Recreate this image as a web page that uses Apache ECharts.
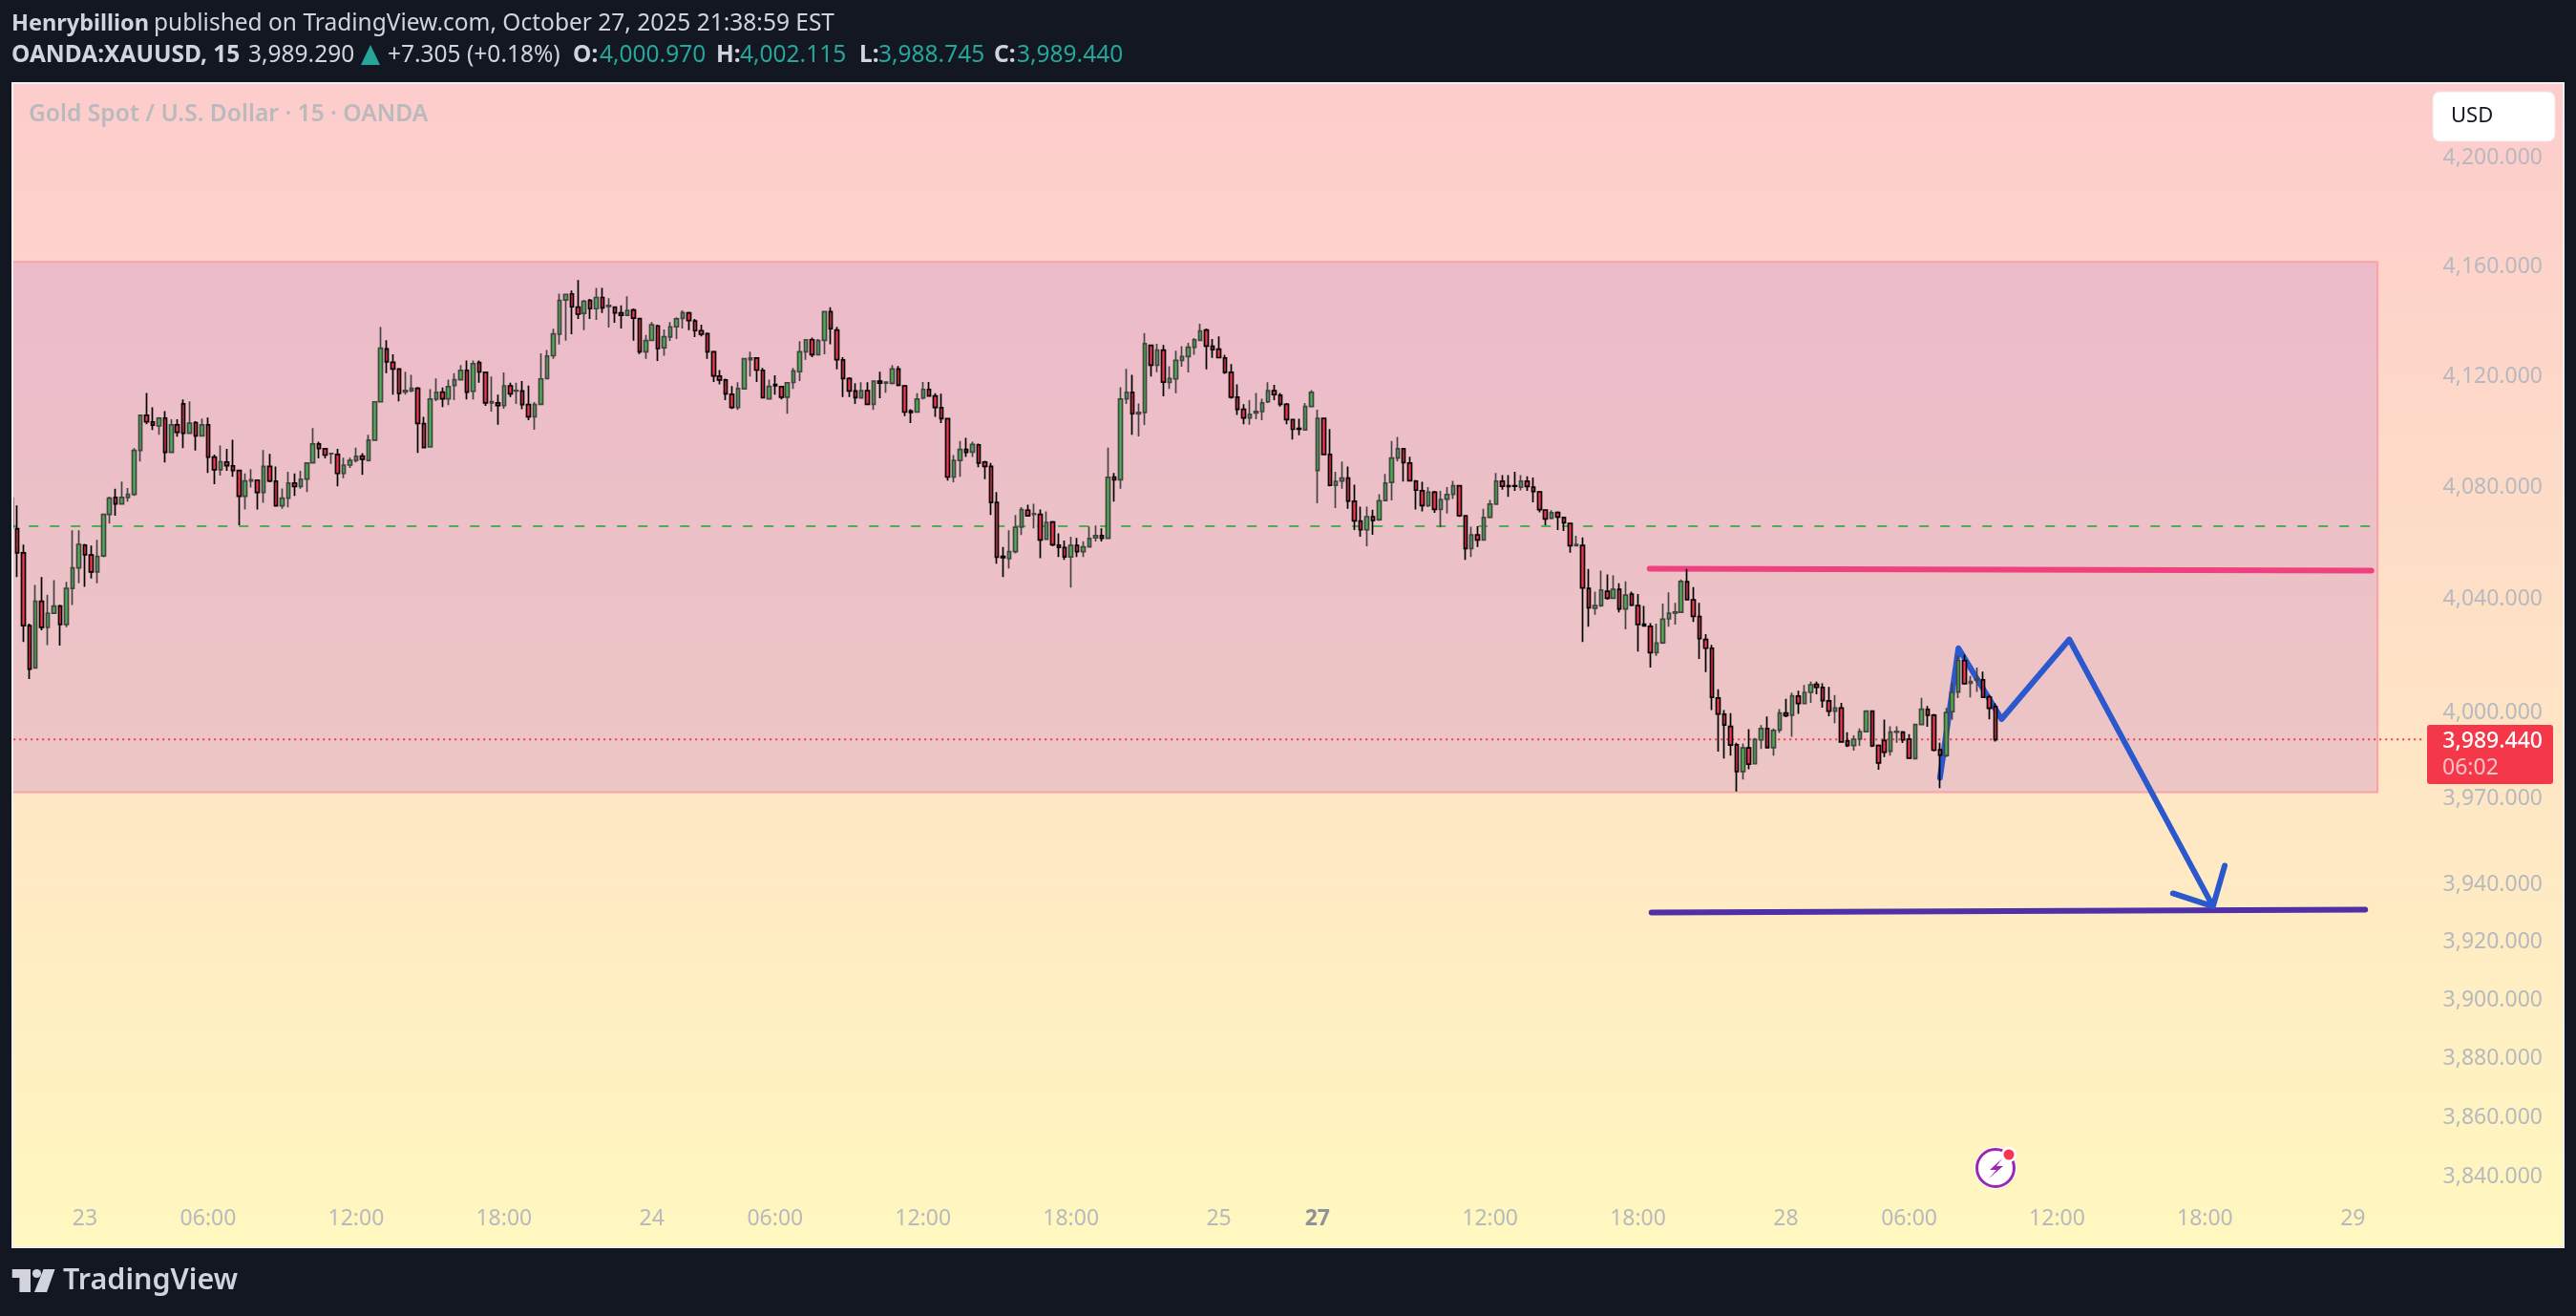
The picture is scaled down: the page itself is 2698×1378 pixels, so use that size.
<!DOCTYPE html>
<html>
<head>
<meta charset="utf-8">
<style>html,body{margin:0;padding:0;background:#131722}#chart{width:2698px;height:1378px}</style>
<script src="https://cdn.jsdelivr.net/npm/echarts@6/dist/echarts.min.js"></script>
</head>
<body>
<div id="chart"></div>
<script>
// open, close, low, high
var candles = [
[4075,4064.4,4064.4,4075],
[4064.1,4055.5,4046.8,4072.4],[4055.5,4029.6,4023.8,4058.4],[4029.6,4014.2,4010.7,4030.3],[4014.6,4038.2,4014.4,4044],[4038.2,4029,4027.9,4046.8],
[4029,4034,4022.7,4040.6],[4034,4036.5,4034,4045.7],[4036.5,4030,4022.5,4037],[4030,4042.8,4029,4045.1],[4042.8,4050.1,4036.9,4063.5],
[4050.1,4058.5,4044.6,4063.5],[4058.2,4054.8,4043.4,4058.7],[4054.7,4048.7,4046.3,4058.1],[4048.7,4054.2,4044.6,4060.1],[4054.4,4069.2,4053.9,4069.2],
[4069.2,4075,4065.9,4075.6],[4075.3,4073,4068.7,4078.4],[4073,4075.3,4073,4081],[4075.3,4076.4,4073.8,4078.7],[4076.4,4092.2,4075.8,4093],
[4092.2,4104.8,4088.2,4105],[4104.8,4102.5,4101.6,4112.9],[4102.4,4101.3,4099.5,4107.7],[4101,4103.8,4097.8,4104.2],[4103.8,4091.5,4087.8,4106.3],
[4091.5,4101.4,4091.5,4103.4],[4101.4,4098.7,4097.1,4103.4],[4109,4098.4,4093,4110.6],[4098.4,4102,4098.4,4109.9],[4102.2,4097.4,4092.1,4102.7],
[4097.4,4101.4,4097.4,4103.7],[4101.4,4089.8,4084.1,4104],[4089.8,4085.2,4080,4090.7],[4085.2,4088.1,4083.1,4093.9],[4088,4086.7,4084.8,4092.7],
[4086.6,4085,4082.7,4096],[4085,4075.7,4065.3,4085.2],[4075.7,4081.2,4071,4083.9],[4081.2,4081.6,4078.8,4085.4],[4081.5,4077.1,4071,4081.6],
[4077.1,4086.4,4073.4,4092.3],[4086.4,4081.2,4080.7,4090.9],[4081.1,4072.3,4072.2,4086.4],[4072.3,4075,4071.2,4078.5],[4075,4080.4,4071.7,4084.5],
[4080.4,4079.2,4075.8,4083.9],[4079.2,4081.8,4078.4,4084.8],[4081.9,4087.6,4077.2,4087.6],[4087.7,4094.5,4087.7,4100.2],[4094.5,4092.9,4089.3,4095.3],
[4092.8,4090.5,4089.3,4093],[4091,4091.1,4087.3,4091.1],[4090.7,4083.9,4079.3,4092.7],[4083.9,4086.9,4082.2,4089.6],[4086.9,4088.6,4085.9,4089.6],
[4088.6,4090,4087.8,4093.2],[4090.1,4089,4083.4,4091.2],[4088.6,4095.9,4088.2,4097.8],[4095.9,4109.7,4095.9,4109.7],[4109.7,4129.1,4109.7,4136.9],
[4128.9,4124.2,4120.1,4132],[4124,4121.6,4112.3,4126.9],[4121.6,4112.8,4109.9,4121.8],[4113.3,4113.8,4112.3,4120.6],[4113.7,4114.6,4113.2,4119.5],
[4114.6,4101.9,4091.3,4115.1],[4101.8,4093.2,4093,4104.3],[4093.5,4110.7,4093.5,4114.3],[4110.7,4113.1,4110,4118.2],[4113.2,4110.8,4107.8,4114.9],
[4110.8,4115.2,4108.5,4117.7],[4115.6,4117.7,4110.3,4120.1],[4117.7,4121.1,4117.5,4123],[4121.1,4113.2,4110.6,4124.7],[4113.5,4123.5,4110.6,4124.7],
[4123.9,4120.5,4116.6,4124.7],[4120.4,4109.3,4108.2,4120.6],[4109.3,4109.8,4106.2,4118.9],[4109.3,4108.4,4101.4,4112.3],[4108.4,4115.5,4107.2,4120.3],
[4115.5,4112.6,4111.4,4116.6],[4113.6,4113.8,4108.9,4116.6],[4113.6,4108.7,4107,4117.2],[4108.7,4104.3,4103.1,4115.6],[4104.3,4108.7,4099.6,4109.6],
[4108.8,4118,4108.8,4127.3],[4118.1,4126.3,4118.1,4128.5],[4126.4,4134.3,4125.3,4136.2],[4134.2,4146.5,4130.5,4149],[4146.7,4148.7,4131.9,4149],
[4148.9,4144.2,4134.2,4150.1],[4144.1,4141.5,4139.8,4154],[4141.8,4146.2,4135.7,4146.7],[4146.5,4143.5,4139.8,4147.1],[4143.5,4147.6,4139.4,4151.1],
[4147.6,4143.8,4141.9,4151.1],[4144.3,4144.7,4136.6,4147.3],[4144.1,4142,4138.4,4144.4],[4142,4141.1,4136.3,4144.7],[4141.1,4142.9,4141,4148],
[4143,4140.1,4131.9,4143.6],[4139.9,4127.8,4127,4140.1],[4127.8,4131.9,4125.3,4133.9],[4132,4137.6,4131.9,4138.6],[4137.2,4129,4124.5,4137.7],
[4129.3,4133.3,4126.4,4135.9],[4133.2,4136.9,4131.8,4138.6],[4136.9,4139.8,4132.5,4140.4],[4140,4142.1,4136.3,4142.9],[4142,4139.2,4135.7,4142.4],
[4139,4135.5,4133.2,4139.8],[4135.5,4134.2,4133.4,4137.7],[4134.4,4127.8,4125.3,4134.8],[4127.8,4119.1,4116.9,4128.2],[4119,4117.6,4116,4121.2],
[4117.6,4112.6,4110.3,4118.1],[4112.4,4107.7,4107.1,4115.4],[4107.7,4114.5,4106.8,4116.8],[4114.4,4125.3,4114.4,4125.5],[4125,4125.6,4118.9,4127.9],
[4125.6,4121.2,4116.9,4125.9],[4121.1,4111.2,4111,4122],[4110.8,4115.3,4110.7,4117.7],[4116,4115.5,4112.3,4119.3],[4115.2,4111.4,4110.6,4115.4],
[4111.4,4116.6,4105.4,4116.8],[4116.7,4120.9,4114.4,4122],[4120.6,4127.8,4117.2,4131.7],[4127.8,4132.2,4124.9,4132.5],[4132.2,4126.8,4125.9,4133],
[4126.8,4131.9,4126.8,4132.5],[4132,4142.4,4126.9,4142.4],[4142.4,4136.2,4130.6,4144],[4135.7,4125,4121.5,4136.9],[4124.9,4118.1,4111.4,4125.9],
[4118.1,4113.6,4111.4,4118.6],[4113.6,4111.2,4108.9,4116.4],[4111.1,4113.7,4110.8,4116.8],[4113.7,4108.8,4108.8,4116.8],[4108.8,4117.2,4106.8,4117.4],
[4117.2,4116.5,4111,4120.6],[4116.5,4116.8,4113,4116.9],[4116.4,4121.6,4116,4123],[4121.6,4115.7,4115.3,4122.7],[4115.5,4106,4104.5,4115.8],
[4106.4,4105.9,4102,4107],[4106,4110.7,4106,4112.8],[4111.1,4114.2,4110.6,4116.9],[4114.2,4111.8,4111.8,4116.9],[4111.8,4107.7,4104.3,4112.8],
[4107.6,4103.6,4102,4112.6],[4103.6,4082.6,4081.3,4103.9],[4082.6,4088.6,4080.7,4090.5],[4088.6,4092.5,4082.7,4095.6],[4092.5,4091.5,4089.8,4096.7],
[4091.6,4094.3,4089.8,4095.3],[4094.2,4087.6,4086.1,4094.6],[4088,4086.4,4081.8,4088.4],[4086.4,4073.5,4069,4087.7],[4073.5,4053.9,4051.6,4077.2],
[4054.2,4053.8,4046.8,4057.6],[4053.4,4055.9,4049.9,4063.5],[4055.9,4064.6,4055.3,4069],[4064.7,4070.9,4061.8,4071.8],[4070.7,4068.7,4068.4,4072.7],
[4069.2,4069.5,4064.2,4073],[4069.2,4060.1,4053.6,4071],[4060.3,4066.3,4060.1,4070.3],[4066.5,4058.4,4057.8,4066.9],[4058.2,4057.4,4054,4062.4],
[4057.4,4054,4053,4059.9],[4054,4058.1,4043.1,4061.2],[4058.1,4055.9,4054,4060.8],[4055.9,4057.6,4054,4059.6],[4057.6,4060.6,4057.4,4064.9],
[4060.8,4061.6,4059.5,4065.2],[4061.6,4060.7,4059.5,4064.2],[4060.7,4082.5,4060.4,4093.2],[4082.6,4081.6,4073.8,4084.1],[4081.6,4110.7,4078.4,4115],
[4110.8,4113.1,4108.9,4121.6],[4113.1,4105.4,4097.8,4119.5],[4105.3,4105.9,4097.2,4109.1],[4105.9,4130.8,4101.3,4134.6],[4130.2,4123,4118.9,4130.5],
[4123,4128.4,4120.4,4130.7],[4128.4,4116.8,4111.7,4130.3],[4116.7,4118.1,4114.4,4122.6],[4118,4124.7,4112.8,4128.2],[4124.7,4126.1,4122.4,4129.9],
[4126.1,4129.5,4120.3,4131.1],[4129.5,4132.2,4126.7,4132.8],[4132,4135.4,4131.7,4138],[4135.7,4129.9,4121.5,4136.3],[4129.8,4128.6,4125.6,4132.5],
[4128.8,4125.7,4125.5,4133.4],[4125.6,4120.4,4119.8,4126.7],[4120.4,4111.4,4110.8,4123.4],[4111.4,4107,4105,4116],[4107,4103.9,4101.6,4108.8],
[4103.9,4105.2,4101.4,4110.3],[4105.7,4106.2,4103.4,4112.9],[4106.2,4109.3,4103.1,4110.8],[4109.7,4113.7,4109.3,4116.8],[4113.7,4112.3,4110.3,4115.8],
[4112.1,4108.8,4108,4112.9],[4108.8,4103.3,4101.6,4109.3],[4103.3,4099.8,4096.1,4103.6],[4100.1,4099.8,4097.6,4103.6],[4099.6,4108,4099.3,4109.3],
[4108,4113.1,4107.7,4113.9],[4085,4103.7,4073.2,4106.9],[4103.7,4090.7,4090.5,4103.9],[4090.7,4079.6,4079.3,4099.9],[4079.6,4081,4071.5,4084.5],
[4081.2,4082.2,4078.4,4088.2],[4082.2,4074,4071.2,4086.4],[4073.9,4066.9,4063.6,4079.9],[4066.8,4063.7,4061.2,4072],[4063.7,4068.4,4057.8,4072],
[4068.4,4067.1,4061.9,4070.9],[4067.3,4074.1,4066.9,4076.4],[4074.2,4080.4,4074.2,4083.7],[4080.7,4089.4,4074.2,4095.6],[4089.4,4092.8,4088.2,4097],
[4092.8,4087.8,4081,4093],[4087.6,4081.3,4081.1,4089.9],[4081.1,4077.9,4071,4081.6],[4077.7,4072.4,4070.3,4080.9],[4072.4,4077.2,4071.8,4079],
[4077.2,4071,4069.8,4077.6],[4071,4074.5,4064.6,4077.6],[4074.7,4076.3,4069.5,4079],[4076.4,4079.5,4074.7,4081.2],[4079.5,4068.8,4068.3,4079.7],
[4068.7,4057,4053,4068.9],[4057,4061.9,4054,4064.8],[4061.9,4060.1,4057.6,4065],[4060.1,4068.1,4059.9,4071.2],[4068.2,4072.9,4067.8,4074.4],
[4072.9,4081.1,4072.6,4084.1],[4081.1,4079.3,4078.1,4083.3],[4079.5,4079.2,4075.5,4083.3],[4079.5,4079.3,4077.6,4084.5],[4079,4081.1,4077.8,4083.3],
[4081.1,4079.2,4077.6,4082.9],[4079,4077.4,4073.5,4082.4],[4077.3,4070.9,4069.9,4077.6],[4070.8,4067.6,4065.3,4071],[4067.8,4069.8,4067.5,4070.7],
[4069.9,4068.3,4063.6,4070.3],[4068.1,4066.2,4063.3,4068.3],[4066,4058,4055.5,4066.2],[4058,4058.5,4057.8,4061.6],[4058.1,4043,4023.8,4061],
[4042.8,4035.9,4029.2,4049.7],[4035.8,4036.7,4033.4,4041.7],[4036.7,4042.2,4036.2,4049.1],[4041.8,4039.3,4038.8,4047.8],[4039.3,4042.5,4039.1,4047.4],
[4042.5,4035.5,4034.3,4044.6],[4035.5,4040.4,4028.3,4045.3],[4040.8,4036.9,4036.5,4041.7],[4036.7,4030,4020.4,4040.8],[4030.1,4029.5,4029.2,4036.6],
[4029.3,4020,4014.8,4030.5],[4020,4023.4,4018.9,4030.3],[4023.5,4031.9,4023.1,4037.4],[4032,4034,4029.2,4041.4],[4034.1,4034.4,4030,4037.7],
[4034.3,4045.3,4034.3,4046],[4045.2,4038.8,4038.5,4049.7],[4038.7,4032.9,4030.9,4043.3],[4032.8,4025,4017.8,4037.7],[4024.7,4021.6,4013.2,4026.6],
[4021.6,4004.3,3999.8,4022.8],[4004,3998.4,3985.2,4007.1],[3998.3,3994.5,3982.8,3999.8],[3994,3987.5,3983.8,3998.7],[3987.6,3978.2,3971.2,3988.3],
[3978.2,3986.5,3975.4,3988],[3986.5,3980.8,3979,3993.1],[3981,3989.4,3980.8,3990],[3989.3,3993.3,3986.1,3994.5],[3993.3,3986.6,3986.4,3997.5],
[3986.6,3992.6,3983.8,3993.3],[3992.8,3998.7,3991.7,4000.1],[3998.7,3997.8,3997.3,4003.7],[3998,4004.8,3990.4,4005.9],[4004.7,4002.1,3998.4,4006.6],
[4002.1,4006,4002,4008.6],[4006,4008.7,4002.3,4009.8],[4008.8,4007.8,4005.3,4009.8],[4007.7,4003.1,4000.6,4009.2],[4003,3999.4,3997.6,4007.9],
[3999.4,4000.5,3995.2,4005.1],[4000.5,3988.6,3988.4,4002.3],[3988.9,3987.3,3986.8,3992],[3987.3,3989.5,3985.5,3990.9],[3989.6,3992.2,3987.2,3993.3],
[3992.2,3999.4,3992.2,3999.7],[3999.4,3987.2,3986.8,3999.7],[3987.3,3981.2,3978.8,3987.7],[3989.1,3985,3983.3,3996.4],[3985.3,3992,3983.8,3994.1],
[3992,3992.3,3988.3,3994.1],[3992,3989.3,3988.2,3992.4],[3989.5,3982.9,3982.8,3991.3],[3982.7,3994.7,3982.7,3994.7],[3994.7,4000.1,3994.7,4004.1],
[4000,3998,3993.9,4001.2],[3998,3985.7,3985.3,3998.4],[3985.8,3984,3972.4,3988.3],[3983.8,3998.9,3983.3,4000.5],[3999.2,4006,3996.3,4009.4],
[4006.1,4017.2,4004,4019.1],[4017.2,4009.1,4009,4019.3],[4009.2,4009.8,4004.2,4011.8],[4010.4,4010.8,4006.2,4014.8],[4010.4,4004.3,4004,4013.3],
[4004.4,4000.4,3996.5,4005.1],[4000.97,3989.44,3988.745,4002.115]
];
var barCount = 415;
var xTickBars = [12,32,56,80,104,124,148,172,196,212,240,264,288,308,332,356,380];
var xTickLabels = ['23','06:00','12:00','18:00','24','06:00','12:00','18:00','25','27','12:00','18:00','28','06:00','12:00','18:00','29'];
var yTicks = [4200,4160,4120,4080,4040,4000,3970,3940,3920,3900,3880,3860,3840];
var yMin = 3815.5, yMax = 4226.2;

// drawings, [bar position, price]
var zoneTop = 4160.6, zoneBottom = 3971, zoneEnd = 384;
var midLevel = 4065, lastPrice = 3989.44, lastPriceEnd = 391.2;
var pinkLine = [[265.9,4049.8],[383,4049.1]];
var purpleLine = [[266.2,3929.2],[382,3930.2]];
var bluePath = [[313,3976],[316,4021.6],[323,3996.6],[334,4024.7],[357.3,3931.3],[350.8,3935.8],[357.3,3931.3],[359.2,3945.4]];

var categories = [];
for (var i = 0; i < barCount; i++) categories.push(String(i));

var myChart = echarts.init(document.getElementById('chart'), null, {renderer: 'canvas'});

function headText(x, y, text, bold, color, size) {
    return {type: 'text', x: x, y: y, z: 50, style: {text: text, fill: color || '#d1d4dc',
        font: (bold ? '700 ' : '400 ') + (size || 24.5) + 'px "Noto Sans"', textVerticalAlign: 'middle'}};
}
var green = '#26a69a';
var option = {
    backgroundColor: '#131722',
    animation: false,
    grid: {
        left: 8.2, top: 88, width: 2678.8, height: 1217, show: true, borderWidth: 0,
        backgroundColor: new echarts.graphic.LinearGradient(0, 0, 0, 1, [
            {offset: 0, color: '#fdcccc'}, {offset: 1, color: '#fff8bf'}
        ])
    },
    xAxis: [{
        type: 'category', data: categories, boundaryGap: true,
        axisLine: {show: false}, axisTick: {show: false}, splitLine: {show: false},
        axisLabel: {
            inside: true, margin: 17, color: '#b7b9bf', fontFamily: 'Noto Sans', fontSize: 23,
            hideOverlap: false,
            interval: function (index) { return xTickBars.indexOf(index) >= 0; },
            formatter: function (value, index) {
                var t = xTickLabels[xTickBars.indexOf(+value)];
                return t === '27' ? '{b|27}' : t;
            },
            rich: {b: {fontWeight: 700, color: '#8f929a', fontFamily: 'Noto Sans', fontSize: 23}}
        }
    }, {
        type: 'value', show: false, min: -0.5, max: barCount - 0.5, splitLine: {show: false}
    }],
    yAxis: {
        type: 'log', logBase: Math.E, position: 'right', min: yMin, max: yMax, scale: true,
        axisLine: {show: false}, axisTick: {show: false}, splitLine: {show: false},
        axisLabel: {
            inside: true, margin: 24,
            customValues: yTicks, showMinLabel: true, showMaxLabel: true,
            formatter: function (v) {
                return '{v|' + Number(v).toLocaleString('en-US', {minimumFractionDigits: 3, maximumFractionDigits: 3}) + '}';
            },
            rich: {v: {color: '#b7b9bf', fontFamily: 'Noto Sans', fontSize: 23, padding: [7, 0, 0, 0]}}
        }
    },
    series: [{
        name: 'zone', type: 'line', xAxisIndex: 1, showSymbol: false, z: 1, silent: true,
        data: [[-0.5, zoneTop], [zoneEnd, zoneTop], [zoneEnd, zoneBottom], [-0.5, zoneBottom]],
        lineStyle: {color: '#f9a2a8', width: 2},
        markArea: {silent: true, itemStyle: {borderWidth: 0,
                color: new echarts.graphic.LinearGradient(0, 0, 0, 1, [
                    {offset: 0, color: 'rgba(162,86,200,0.19)'}, {offset: 1, color: 'rgba(165,66,200,0.2)'}
                ])},
            data: [[{xAxis: -0.5, yAxis: zoneTop}, {xAxis: zoneEnd, yAxis: zoneBottom}]]}
    }, {
        name: 'level', type: 'line', xAxisIndex: 1, showSymbol: false, z: 1, silent: true,
        data: [[-0.5, midLevel], [zoneEnd, midLevel]],
        lineStyle: {color: '#4caf50', width: 2, type: [10, 12]}
    }, {
        name: 'last', type: 'line', xAxisIndex: 1, showSymbol: false, z: 1, silent: true,
        data: [[-0.5, lastPrice], [lastPriceEnd, lastPrice]],
        lineStyle: {color: '#f7374f', width: 2, type: [2, 4]}
    }, {
        name: 'pink', type: 'line', xAxisIndex: 1, showSymbol: false, z: 2, silent: true, data: pinkLine,
        lineStyle: {color: '#ef4080', width: 6, cap: 'round'}
    }, {
        name: 'purple', type: 'line', xAxisIndex: 1, showSymbol: false, z: 2, silent: true, data: purpleLine,
        lineStyle: {color: '#5030a8', width: 6, cap: 'round'}
    }, {
        name: 'blue', type: 'line', xAxisIndex: 1, showSymbol: false, z: 3, silent: true, data: bluePath,
        lineStyle: {color: '#2b58cc', width: 6, cap: 'round', join: 'round'}
    }, {
        name: 'XAUUSD', type: 'candlestick', z: 4, data: candles, barWidth: 4,
        itemStyle: {color: '#4caf50', color0: '#f7374f', borderColor: '#444444', borderColor0: '#000000', borderWidth: 1.7}
    }],
    graphic: {elements: [
        // panel frame over the clipped first bar
        {type: 'rect', z: 40, shape: {x: 0, y: 0, width: 12, height: 1378}, style: {fill: '#131722'}},
        {type: 'rect', z: 40, shape: {x: 2686, y: 0, width: 12, height: 1378}, style: {fill: '#131722'}},
        {type: 'rect', z: 41, shape: {x: 13, y: 87, width: 2672, height: 1219}, style: {fill: 'none', stroke: '#f0f0f0', lineWidth: 2}},

        headText(12, 25, 'Henrybillion', true, null, 23.5),
        headText(161, 25, 'published on TradingView.com, October 27, 2025 21:38:59 EST'),
        headText(12, 58, 'OANDA:XAUUSD, 15', true),
        headText(260, 58, '3,989.290'),
        {type: 'polygon', z: 50, shape: {points: [[388,47],[398,68],[378,68]]}, style: {fill: green}},
        headText(406, 58, '+7.305 (+0.18%)'),
        headText(600, 58, 'O:', true), headText(628, 58, '4,000.970', false, green),
        headText(750, 58, 'H:', true), headText(775, 58, '4,002.115', false, green),
        headText(900, 58, 'L:', true), headText(920, 58, '3,988.745', false, green),
        headText(1041, 58, 'C:', true), headText(1065, 58, '3,989.440', false, green),

        {type: 'text', x: 30, y: 120, z: 50, style: {text: 'Gold Spot / U.S. Dollar \u00b7 15 \u00b7 OANDA', fill: '#b9babd',
            font: '600 24.6px "Noto Sans"', textVerticalAlign: 'middle'}},

        {type: 'rect', z: 50, shape: {x: 2548, y: 96, width: 128, height: 52, r: 7}, style: {fill: '#ffffff', stroke: '#f0e4e4', lineWidth: 1}},
        {type: 'text', x: 2567, y: 122, z: 51, style: {text: 'USD', fill: '#131722', font: '400 22px "Noto Sans"', textVerticalAlign: 'middle'}},

        {type: 'rect', z: 50, shape: {x: 2542, y: 759, width: 132, height: 62, r: 3}, style: {fill: '#f5374a'}},
        {type: 'text', x: 2663, y: 776, z: 51, style: {text: '3,989.440', fill: '#ffffff', font: '500 23px "Noto Sans"', textAlign: 'right', textVerticalAlign: 'middle'}},
        {type: 'text', x: 2558, y: 804, z: 51, style: {text: '06:02', fill: '#fcc2c8', font: '400 23px "Noto Sans"', textVerticalAlign: 'middle'}},

        // flash icon
        {type: 'circle', z: 50, shape: {cx: 2090, cy: 1223, r: 22}, style: {fill: '#ffffff'}},
        {type: 'circle', z: 51, shape: {cx: 2090, cy: 1223, r: 19.5}, style: {fill: '#ffffff', stroke: '#9c27b0', lineWidth: 3}},
        {type: 'polygon', z: 52, shape: {points: [[2097,1213],[2084,1225],[2091,1225],[2083,1234],[2098,1221],[2091,1221]]}, style: {fill: '#9c27b0'}},
        {type: 'circle', z: 52, shape: {cx: 2104, cy: 1209, r: 8}, style: {fill: '#ffffff'}},
        {type: 'circle', z: 53, shape: {cx: 2104, cy: 1209, r: 5.5}, style: {fill: '#f7374f'}},

        // TradingView logo
        {type: 'polygon', z: 50, shape: {points: [[12.7,1329],[32,1329],[32,1353],[20.4,1353],[20.4,1338],[12.7,1338]]}, style: {fill: '#d1d4dc'}},
        {type: 'circle', z: 50, shape: {cx: 38.5, cy: 1333.5, r: 4.6}, style: {fill: '#d1d4dc'}},
        {type: 'polygon', z: 50, shape: {points: [[45.5,1329],[57.5,1329],[49,1353],[36,1353]]}, style: {fill: '#d1d4dc'}},
        {type: 'text', x: 66, y: 1341, z: 50, style: {text: 'TradingView', fill: '#d1d4dc', font: '600 30.5px "Noto Sans"', textVerticalAlign: 'middle'}}
    ]}
};
myChart.setOption(option);
</script>
</body>
</html>
